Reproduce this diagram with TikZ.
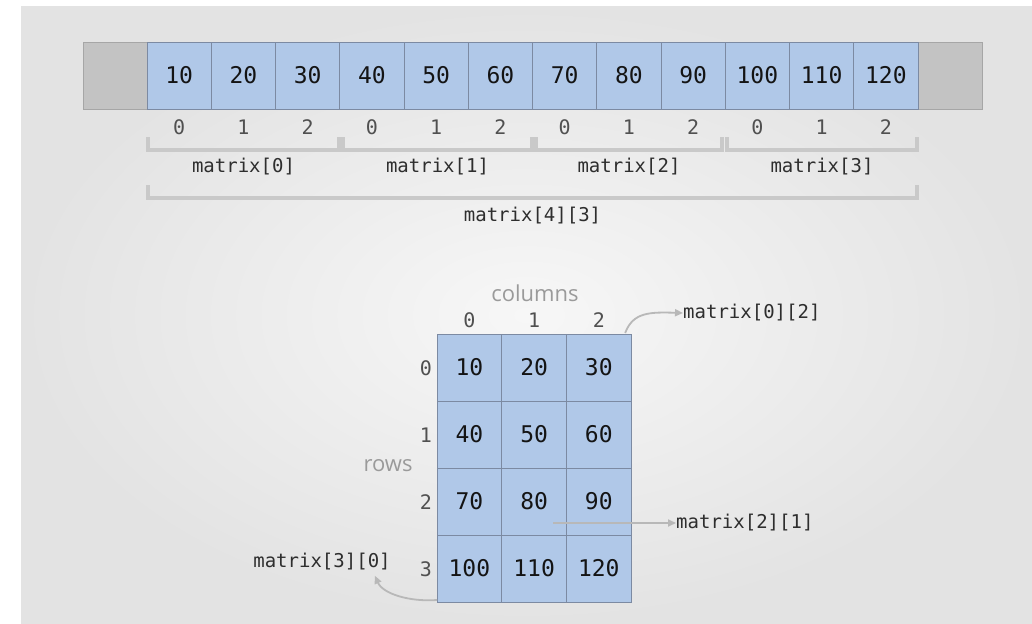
\documentclass[tikz,border=0pt]{standalone}
\usepackage{fontspec}
\setmonofont{DejaVu Sans Mono}
\newfontfamily\captionfont{Open Sans}
\usetikzlibrary{arrows.meta}
\definecolor{panelout}{HTML}{E3E3E3}
\definecolor{panelin}{HTML}{F7F7F7}
\definecolor{cellblue}{HTML}{B0C8E8}
\definecolor{cellline}{HTML}{7C8AA2}
\definecolor{padgray}{HTML}{C3C3C3}
\definecolor{padline}{HTML}{A6A6A6}
\definecolor{bracegray}{HTML}{C9C9C9}
\definecolor{arrowgray}{HTML}{B8B8B8}
\definecolor{idxgray}{HTML}{505050}
\definecolor{labgray}{HTML}{2E2E2E}
\definecolor{wordgray}{HTML}{9A9A9A}
\tikzset{
  cell/.style={draw=cellline, line width=0.8pt, fill=cellblue, minimum width=64.3pt, minimum height=67pt, inner sep=0pt, outer sep=0pt, font=\ttfamily\fontsize{23}{23}\selectfont, text=black!92},
  pad/.style={draw=padline, line width=0.8pt, fill=padgray, minimum width=64pt, minimum height=67pt, inner sep=0pt, outer sep=0pt},
  gridcell/.style={cell, minimum width=64.7pt},
  idx/.style={font=\ttfamily\fontsize{20}{20}\selectfont, text=idxgray, inner sep=0pt},
  lab/.style={font=\ttfamily\fontsize{19}{19}\selectfont, text=labgray, inner sep=0pt},
  word/.style={font=\captionfont\fontsize{22}{22}\selectfont, text=wordgray, inner sep=0pt},
  bracket/.style={draw=bracegray, line width=4pt},
  pointer/.style={draw=arrowgray, line width=1.8pt, -{Triangle[length=8pt,width=7pt]}},
}
\begin{document}
\begin{tikzpicture}[x=1pt, y=-1pt]
\useasboundingbox (0,0) rectangle (1032,623);
% backdrop panel
\shade[inner color=panelin, outer color=panelout] (21,7) rectangle (1032,623);

% linear storage with padding on both ends
\node[pad] (padL) at (115.5,75.5) {};
\node[pad] (padR) at (950,75.5) {};
\foreach \v [count=\i from 0] in {10,20,30,40,50,60,70,80,90,100,110,120} {
  \node[cell] (a\i) at (147+32.15+64.25*\i, 75.5) {\v};
  \pgfmathtruncatemacro\col{mod(\i,3)}
  \node[idx] (ai\i) at (147+32.15+64.25*\i, 127) {\col};
}

% row brackets
\foreach \r/\xa/\xb in {0/148/339, 1/343/532, 2/536/722, 3/727/917} {
  \draw[bracket] (\xa,137) -- (\xa,150) -- (\xb,150) -- (\xb,137);
  \node[lab] (rl\r) at ({(\xa+\xb)/2},167) {matrix[\r]};
}
\draw[bracket] (148,185) -- (148,198) -- (917,198) -- (917,185);
\node[lab] (whole) at (532.5,216) {matrix[4][3]};

% two-dimensional view
\foreach \row/\a/\b/\c in {0/10/20/30, 1/40/50/60, 2/70/80/90, 3/100/110/120} {
  \node[gridcell] (g\row-0) at (469.4, 367.5+67*\row) {\a};
  \node[gridcell] (g\row-1) at (534.1, 367.5+67*\row) {\b};
  \node[gridcell] (g\row-2) at (598.8, 367.5+67*\row) {\c};
  \node[idx, anchor=east] (rn\row) at (432, 368+67*\row) {\row};
}
\foreach \k in {0,1,2} {
  \node[idx] (cn\k) at (469.4+64.7*\k, 320) {\k};
}
\node[word] (cols) at (535,293) {columns};
\node[word] (rows) at (388,466) {rows};

% element pointers
\node[lab, anchor=west] (p02) at (683,313) {matrix[0][2]};
\node[lab, anchor=west] (p21) at (676,523) {matrix[2][1]};
\node[lab] (p30) at (322,562) {matrix[3][0]};
\coordinate (tr) at (g0-2.north east);
\coordinate (bl) at (g3-0.south west);
\coordinate (mid) at (553,523);
\draw[pointer] ([xshift=-6pt,yshift=1pt]tr) .. controls (633,312) and (650,312) .. (p02.west);
\draw[pointer] (mid) -- (p21.west);
\draw[pointer] ([yshift=2pt]bl) .. controls (410,602) and (383,594) .. ([xshift=-16pt,yshift=-5pt]p30.south east);
\end{tikzpicture}
\end{document}
